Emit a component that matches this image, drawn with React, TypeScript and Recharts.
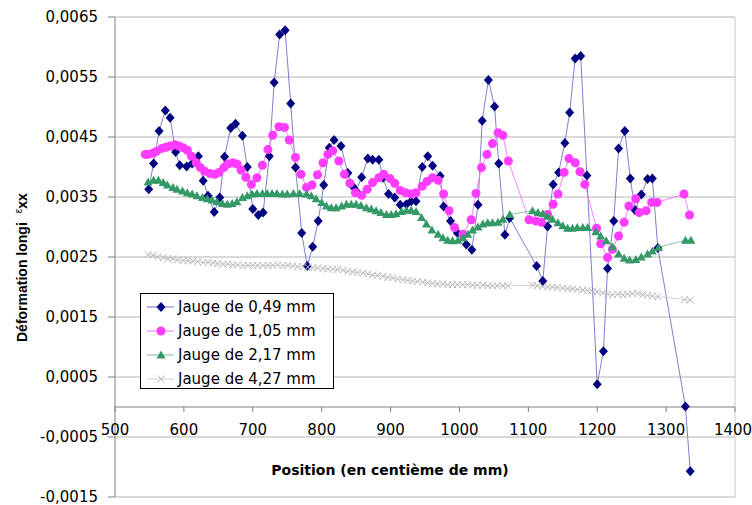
import React from 'react';
import { LineChart, Line, XAxis, YAxis, CartesianGrid, ReferenceLine, Label } from 'recharts';

const W = 752;
const H = 505;
const Y_MIN = -0.0015;
const Y_MAX = 0.0065;
const MARGIN = { top: 17, right: 17, bottom: 0, left: 0 };
const X_AXIS_H = 8;
const PLOT_H = H - MARGIN.top - MARGIN.bottom - X_AXIS_H;
const ZERO_Y = MARGIN.top + (PLOT_H * Y_MAX) / (Y_MAX - Y_MIN);

const xTicks = [500, 600, 700, 800, 900, 1000, 1100, 1200, 1300, 1400];
const yTicks = [-0.0015, -0.0005, 0.0005, 0.0015, 0.0025, 0.0035, 0.0045, 0.0055, 0.0065];

const seriesNames = ['Jauge de 0,49 mm', 'Jauge de 1,05 mm', 'Jauge de 2,17 mm', 'Jauge de 4,27 mm'];

// jauge 0,49 mm
const pos049 = [549, 556, 564, 573, 580, 588, 594, 604, 612, 621, 628, 635, 644, 652, 659, 668, 675, 685, 692, 700,
  708, 715, 724, 731, 739, 747, 755, 762, 771, 779, 787, 795, 803, 811, 818, 828, 838, 845, 850, 858,
  867, 874, 883, 889, 897, 906, 914, 923, 930, 937, 946, 954, 961, 972, 977, 987, 997, 1010, 1018, 1027,
  1033, 1042, 1051, 1057, 1066, 1073, 1112, 1121, 1128, 1136, 1144, 1153, 1160, 1168, 1176, 1185, 1200, 1209, 1215, 1224,
  1231, 1240, 1248, 1255, 1264, 1273, 1280, 1288, 1328, 1335];
const def049 = [0.00363, 0.00406, 0.0046, 0.00494, 0.00482, 0.00425, 0.00403, 0.00401, 0.00406, 0.00418, 0.00377, 0.00352, 0.00325, 0.00349, 0.00417, 0.00465, 0.00472, 0.00452, 0.004, 0.0033,
  0.0032, 0.00324, 0.00418, 0.00541, 0.00621, 0.00628, 0.00506, 0.00399, 0.0029, 0.00235, 0.00267, 0.0031, 0.0037, 0.00432, 0.00445, 0.00435, 0.0039, 0.00368, 0.0036, 0.00383,
  0.00414, 0.00412, 0.00412, 0.00382, 0.00355, 0.00349, 0.00337, 0.00338, 0.00343, 0.00343, 0.004, 0.00418, 0.00402, 0.00385, 0.00334, 0.0031, 0.0029, 0.00271, 0.00262, 0.00337,
  0.00477, 0.00545, 0.00501, 0.00406, 0.00287, 0.00315, 0.00235, 0.0021, 0.00301, 0.00371, 0.00391, 0.0044, 0.00491, 0.00581, 0.00585, 0.00386, 0.00038, 0.00093, 0.00231, 0.0031,
  0.00431, 0.0046, 0.00381, 0.00328, 0.00354, 0.0038, 0.00381, 0.00265, 0.00001, -0.00107];

// jauge 1,05 mm
const pos105 = [544, 548, 555, 560, 568, 574, 580, 587, 593, 599, 605, 611, 618, 624, 630, 638, 645, 651, 658, 664,
  671, 677, 683, 690, 698, 706, 714, 722, 729, 738, 746, 753, 762, 770, 778, 786, 794, 802, 809, 816,
  825, 833, 841, 849, 858, 866, 874, 883, 890, 899, 906, 914, 922, 930, 937, 946, 953, 961, 969, 977,
  985, 993, 1005, 1017, 1024, 1032, 1040, 1048, 1056, 1063, 1071, 1101, 1111, 1119, 1128, 1136, 1143, 1152, 1159, 1168,
  1175, 1182, 1199, 1205, 1215, 1222, 1231, 1239, 1246, 1256, 1261, 1271, 1279, 1287, 1326, 1334];
const def105 = [0.00421, 0.00421, 0.00423, 0.00426, 0.00431, 0.00433, 0.00435, 0.00437, 0.00435, 0.00432, 0.00428, 0.00418, 0.00407, 0.00399, 0.00393, 0.00389, 0.00388, 0.00391, 0.00399, 0.00405,
  0.00407, 0.00405, 0.00395, 0.00383, 0.00371, 0.00382, 0.00403, 0.00429, 0.00453, 0.00467, 0.00466, 0.00445, 0.00416, 0.00388, 0.00366, 0.0037, 0.00387, 0.00407, 0.00421, 0.00427,
  0.0041, 0.00388, 0.00373, 0.00357, 0.00353, 0.00363, 0.00374, 0.00382, 0.00388, 0.00381, 0.00373, 0.00361, 0.00357, 0.00355, 0.00357, 0.00368, 0.00376, 0.00382, 0.00378, 0.00355,
  0.00327, 0.00299, 0.00288, 0.00312, 0.00356, 0.00399, 0.00421, 0.00439, 0.00457, 0.00453, 0.0041, 0.00312, 0.0031, 0.00308, 0.00321, 0.00338, 0.00355, 0.00391, 0.00414, 0.00407,
  0.00392, 0.00371, 0.00298, 0.00272, 0.00249, 0.00263, 0.00285, 0.00308, 0.00335, 0.00347, 0.00324, 0.00327, 0.00341, 0.00341, 0.00355, 0.0032];

// jauge 2,17 mm
const pos217 = [548, 556, 563, 570, 576, 584, 590, 598, 605, 612, 619, 627, 634, 641, 648, 656, 663, 670, 677, 685,
  692, 699, 706, 714, 721, 728, 735, 743, 750, 759, 768, 778, 785, 792, 800, 807, 814, 821, 829, 836,
  843, 850, 857, 865, 872, 879, 886, 894, 901, 908, 916, 923, 930, 937, 945, 952, 960, 969, 976, 983,
  990, 998, 1005, 1012, 1019, 1027, 1034, 1041, 1048, 1056, 1063, 1073, 1106, 1114, 1121, 1128, 1135, 1143, 1150, 1157,
  1164, 1171, 1179, 1186, 1198, 1205, 1213, 1222, 1231, 1239, 1247, 1256, 1264, 1273, 1280, 1289, 1328, 1336];
const def217 = [0.00375, 0.00378, 0.00378, 0.00374, 0.0037, 0.00366, 0.00363, 0.0036, 0.00357, 0.00355, 0.00352, 0.00349, 0.00347, 0.00345, 0.00342, 0.00339, 0.00338, 0.00339, 0.00342, 0.00349,
  0.00352, 0.00355, 0.00356, 0.00356, 0.00356, 0.00356, 0.00356, 0.00355, 0.00355, 0.00356, 0.00356, 0.00355, 0.00352, 0.00347, 0.00341, 0.00335, 0.00332, 0.00332, 0.00335, 0.00338,
  0.00338, 0.00338, 0.00336, 0.00332, 0.0033, 0.00327, 0.00324, 0.00321, 0.00321, 0.00322, 0.00326, 0.00328, 0.00328, 0.00326, 0.00316, 0.00305, 0.00295, 0.00288, 0.00282, 0.00278,
  0.00277, 0.00278, 0.00282, 0.00288, 0.00295, 0.003, 0.00305, 0.00307, 0.00307, 0.00308, 0.00313, 0.00321, 0.00327, 0.00324, 0.00322, 0.00318, 0.00313, 0.00307, 0.00302, 0.00298,
  0.00298, 0.00299, 0.00299, 0.00299, 0.00292, 0.00285, 0.00277, 0.00267, 0.00255, 0.00248, 0.00245, 0.00246, 0.0025, 0.00255, 0.0026, 0.00266, 0.00278, 0.00278];

// jauge 4,27 mm
const pos427 = [548, 555, 562, 570, 577, 584, 591, 599, 606, 613, 620, 628, 635, 642, 649, 657, 664, 671, 678, 686,
  693, 700, 707, 715, 722, 729, 736, 744, 751, 758, 765, 773, 780, 787, 794, 802, 809, 816, 823, 831,
  838, 845, 852, 860, 867, 874, 881, 889, 896, 903, 910, 918, 925, 932, 939, 947, 954, 961, 968, 976,
  983, 990, 997, 1005, 1012, 1019, 1026, 1034, 1041, 1048, 1055, 1063, 1070, 1106, 1113, 1121, 1128, 1135, 1142, 1150,
  1157, 1164, 1171, 1179, 1186, 1193, 1200, 1208, 1215, 1222, 1230, 1237, 1244, 1251, 1259, 1266, 1273, 1280, 1288, 1327, 1335];
const def427 = [0.00254, 0.00253, 0.0025, 0.00249, 0.00247, 0.00247, 0.00245, 0.00244, 0.00244, 0.00243, 0.00242, 0.00241, 0.00241, 0.0024, 0.00239, 0.00238, 0.00238, 0.00237, 0.00237, 0.00236,
  0.00236, 0.00236, 0.00236, 0.00236, 0.00236, 0.00236, 0.00237, 0.00236, 0.00236, 0.00235, 0.00234, 0.00234, 0.00233, 0.00232, 0.00232, 0.00231, 0.0023, 0.0023, 0.00229, 0.00228,
  0.00226, 0.00225, 0.00224, 0.00223, 0.00222, 0.0022, 0.00219, 0.00218, 0.00216, 0.00215, 0.00213, 0.00212, 0.00211, 0.0021, 0.00209, 0.00208, 0.00207, 0.00206, 0.00205, 0.00205,
  0.00204, 0.00204, 0.00204, 0.00204, 0.00204, 0.00203, 0.00203, 0.00203, 0.00202, 0.00202, 0.00202, 0.00202, 0.00202, 0.00203, 0.00202, 0.00201, 0.002, 0.002, 0.00199, 0.00198,
  0.00197, 0.00197, 0.00196, 0.00195, 0.00194, 0.00193, 0.00192, 0.0019, 0.00188, 0.00187, 0.00188, 0.00187, 0.00188, 0.00189, 0.00189, 0.00187, 0.00186, 0.00185, 0.00184, 0.00179, 0.00178];

const toPoints = (xs: number[], ys: number[]) => xs.map((x, i) => ({ x, y: ys[i] }));

const data049 = toPoints(pos049, def049);
const data105 = toPoints(pos105, def105);
const data217 = toPoints(pos217, def217);
const data427 = toPoints(pos427, def427);

const COLORS = {
  navy: '#000080',
  navyLine: '#6f6fc6',
  magenta: '#ff3cff',
  magentaLine: '#ff70ff',
  green: '#339966',
  greenLine: '#7cbf9c',
  gray: '#b8b8b8',
  grayLine: '#cfcfcf',
};

const fmt = (v: number) => v.toFixed(4).replace('.', ',');

const diamond = (p: any) => {
  const { cx, cy, index } = p;
  if (cx == null || cy == null) return <g key={`d${index}`} />;
  return (
    <polygon key={`d${index}`} fill={COLORS.navy}
      points={`${cx},${cy - 5} ${cx + 4.5},${cy} ${cx},${cy + 5} ${cx - 4.5},${cy}`} />
  );
};

const circle = (p: any) => {
  const { cx, cy, index } = p;
  if (cx == null || cy == null) return <g key={`c${index}`} />;
  return <circle key={`c${index}`} cx={cx} cy={cy} r={4.5} fill={COLORS.magenta} />;
};

const triangle = (p: any) => {
  const { cx, cy, index } = p;
  if (cx == null || cy == null) return <g key={`t${index}`} />;
  return (
    <polygon key={`t${index}`} fill={COLORS.green}
      points={`${cx},${cy - 4.5} ${cx + 4.5},${cy + 3.5} ${cx - 4.5},${cy + 3.5}`} />
  );
};

const cross = (p: any) => {
  const { cx, cy, index } = p;
  if (cx == null || cy == null) return <g key={`x${index}`} />;
  return (
    <g key={`x${index}`} stroke={COLORS.gray} strokeWidth={1}>
      <line x1={cx - 3.5} y1={cy - 3.5} x2={cx + 3.5} y2={cy + 3.5} />
      <line x1={cx - 3.5} y1={cy + 3.5} x2={cx + 3.5} y2={cy - 3.5} />
    </g>
  );
};

// x ticks sit on the y = 0 line, not at the bottom of the plot
const XTick = (props: any) => {
  const { x, payload } = props;
  // last label hugs the right edge, nudge it so it is not clipped
  const tx = payload.value === 1400 ? x - 2 : x;
  return (
    <g>
      <line x1={x} x2={x} y1={ZERO_Y} y2={ZERO_Y + 5} stroke="#808080" />
      <text x={tx} y={ZERO_Y + 28} textAnchor="middle" fontSize={15} fontFamily="DejaVu Sans" fill="#000">
        {payload.value}
      </text>
    </g>
  );
};

const YTitle = () => (
  <text transform="translate(27, 342) rotate(-90)" fontFamily="Liberation Sans, Arial" fill="#000">
    <tspan fontSize={14} fontWeight="bold">Déformation longi</tspan>
    <tspan fontSize={10} dx={9} dy={-5}>ε</tspan>
    <tspan fontSize={14} fontWeight="bold" dy={5}>xx</tspan>
  </text>
);

const XTitle = () => (
  <text x={390} y={475} textAnchor="middle" fontSize={14} fontWeight="bold" fontFamily="DejaVu Sans" fill="#000">
    Position (en centième de mm)
  </text>
);

const legendMarks = [
  { color: COLORS.navyLine, mark: (cx: number, cy: number) => diamond({ cx, cy, index: 0 }) },
  { color: COLORS.magentaLine, mark: (cx: number, cy: number) => circle({ cx, cy, index: 0 }) },
  { color: COLORS.greenLine, mark: (cx: number, cy: number) => triangle({ cx, cy, index: 0 }) },
  { color: COLORS.grayLine, mark: (cx: number, cy: number) => cross({ cx, cy, index: 0 }) },
];

const ChartLegend = () => (
  <div style={{
    position: 'absolute', left: 140, top: 293, width: 192, height: 94,
    border: '1px solid #000', background: '#fff',
  }}>
    {seriesNames.map((name, i) => (
      <div key={name} style={{ position: 'absolute', left: 0, top: 2 + i * 24, height: 22, display: 'flex', alignItems: 'center' }}>
        <svg width={36} height={22} style={{ display: 'block' }}>
          <line x1={6} x2={33} y1={11} y2={11} stroke={legendMarks[i].color} strokeWidth={1} />
          {legendMarks[i].mark(20, 11)}
        </svg>
        <span style={{ fontFamily: 'DejaVu Sans', fontSize: 15, color: '#000', marginLeft: 1, whiteSpace: 'nowrap' }}>{name}</span>
      </div>
    ))}
  </div>
);

export default function App() {
  return (
    <div style={{ position: 'absolute', left: 0, top: 0, width: W, height: H, background: '#fff' }}>
      <LineChart width={W} height={H} margin={MARGIN}>
        <CartesianGrid vertical={false} stroke="#b4b4b4" />
        <XAxis type="number" dataKey="x" domain={[500, 1400]} ticks={xTicks} interval={0}
          height={X_AXIS_H} tickSize={0} tickMargin={0} axisLine={false} tickLine={false}
          tick={XTick} allowDataOverflow>
          <Label content={XTitle} />
        </XAxis>
        <YAxis type="number" domain={[Y_MIN, Y_MAX]} ticks={yTicks} interval={0} width={115}
          tickSize={7} tickMargin={10} tickFormatter={fmt} allowDataOverflow
          axisLine={{ stroke: '#808080' }} tickLine={{ stroke: '#808080' }}
          tick={{ fontSize: 15, fontFamily: 'DejaVu Sans', fill: '#000' }}>
          <Label content={YTitle} />
        </YAxis>
        <ReferenceLine x={1400} stroke="#c8c8c8" />
        <ReferenceLine y={0} stroke="#808080" />
        <Line data={data049} dataKey="y" name={seriesNames[0]} type="linear" stroke={COLORS.navyLine}
          strokeWidth={0.9} dot={diamond} activeDot={false} isAnimationActive={false} />
        <Line data={data105} dataKey="y" name={seriesNames[1]} type="linear" stroke={COLORS.magentaLine}
          strokeWidth={0.9} dot={circle} activeDot={false} isAnimationActive={false} />
        <Line data={data217} dataKey="y" name={seriesNames[2]} type="linear" stroke={COLORS.greenLine}
          strokeWidth={0.9} dot={triangle} activeDot={false} isAnimationActive={false} />
        <Line data={data427} dataKey="y" name={seriesNames[3]} type="linear" stroke={COLORS.grayLine}
          strokeWidth={0.9} dot={cross} activeDot={false} isAnimationActive={false} />
      </LineChart>
      <ChartLegend />
    </div>
  );
}
